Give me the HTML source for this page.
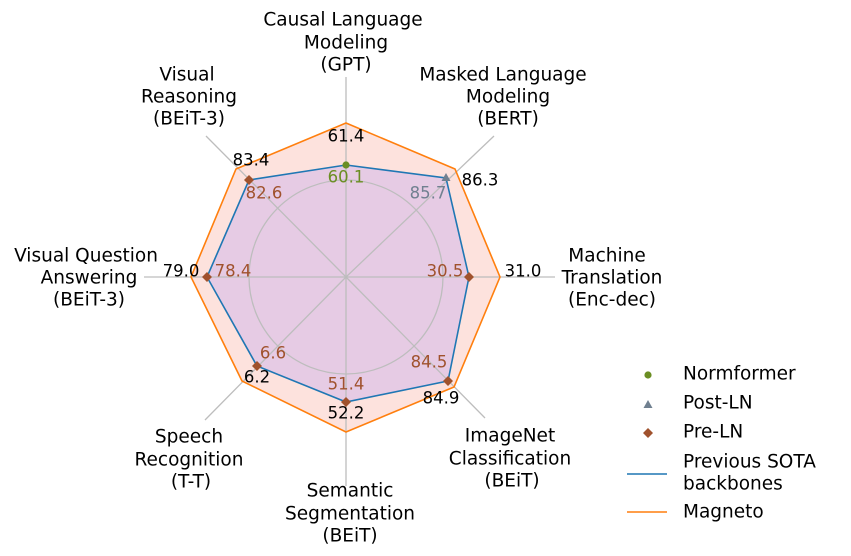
<!DOCTYPE html>
<html><head><meta charset="utf-8"><style>
html,body{margin:0;padding:0;background:#fff;}
svg{display:block;font-family:"DejaVu Sans","Liberation Sans",sans-serif;}
</style></head><body>
<svg width="851" height="556" viewBox="0 0 851 556">
<rect width="851" height="556" fill="#fff"/>
<polygon points="346,123 455,169 500,277 454,387 346,432 242,381 191,277 236,169" fill="#fde2dd"/>
<polygon points="346,165 446,178 469,277 448,381 346,402 257,366 207,277 249,180" fill="#e6cbe4"/>
<g stroke="#bdbdbd" stroke-width="1.3" fill="none">
<circle cx="346" cy="277" r="97"/>
<line x1="346" y1="277" x2="346" y2="77"/>
<line x1="346" y1="277" x2="494" y2="136"/>
<line x1="346" y1="277" x2="555" y2="277"/>
<line x1="346" y1="277" x2="485" y2="418"/>
<line x1="346" y1="277" x2="346" y2="486"/>
<line x1="346" y1="277" x2="205" y2="420"/>
<line x1="346" y1="277" x2="144" y2="277"/>
<line x1="346" y1="277" x2="206" y2="136"/>
</g>
<polygon points="346,123 455,169 500,277 454,387 346,432 242,381 191,277 236,169" fill="none" stroke="#ff7f0e" stroke-width="1.6"/>
<polygon points="346,165 446,178 469,277 448,381 346,402 257,366 207,277 249,180" fill="none" stroke="#1f77b4" stroke-width="1.6"/>
<g fill="#a0522d">
<polygon points="249,175 254,180 249,185 244,180"/>
<polygon points="469,272 474,277 469,282 464,277"/>
<polygon points="448,376 453,381 448,386 443,381"/>
<polygon points="346,397 351,402 346,407 341,402"/>
<polygon points="257,361 262,366 257,371 252,366"/>
<polygon points="207,272 212,277 207,282 202,277"/>
</g>
<circle cx="346" cy="165" r="3.6" fill="#6b8e23"/>
<polygon points="446,173 450.5,181 441.5,181" fill="#708090"/>
<g font-size="16.5" text-anchor="middle" dominant-baseline="central">
<text x="346" y="136">61.4</text>
<text x="346" y="177" fill="#6b8e23">60.1</text>
<text x="251" y="160">83.4</text>
<text x="264" y="193" fill="#a0522d">82.6</text>
<text x="480" y="180">86.3</text>
<text x="428" y="193" fill="#708090">85.7</text>
<text x="523" y="271">31.0</text>
<text x="445" y="271" fill="#a0522d">30.5</text>
<text x="181" y="271">79.0</text>
<text x="233" y="271" fill="#a0522d">78.4</text>
<text x="441" y="398">84.9</text>
<text x="429" y="362" fill="#a0522d">84.5</text>
<text x="346" y="413">52.2</text>
<text x="346" y="384" fill="#a0522d">51.4</text>
<text x="257" y="377">6.2</text>
<text x="273" y="353" fill="#a0522d">6.6</text>
</g>
<g font-size="18.5" text-anchor="middle" dominant-baseline="central">
<text x="343" y="20">Causal Language</text><text x="346" y="43">Modeling</text><text x="346" y="65">(GPT)</text>
<text x="503" y="75">Masked Language</text><text x="508" y="97">Modeling</text><text x="508" y="119">(BERT)</text>
<text x="607" y="256">Machine</text><text x="612" y="278">Translation</text><text x="612" y="300">(Enc-dec)</text>
<text x="510" y="436">ImageNet</text><text x="510" y="459">Classification</text><text x="512" y="481">(BEiT)</text>
<text x="350" y="491">Semantic</text><text x="350" y="514">Segmentation</text><text x="350" y="536">(BEiT)</text>
<text x="189" y="437">Speech</text><text x="189" y="460">Recognition</text><text x="191" y="482">(T-T)</text>
<text x="86" y="256">Visual Question</text><text x="89" y="278">Answering</text><text x="89" y="300">(BEiT-3)</text>
<text x="187" y="75">Visual</text><text x="189" y="97">Reasoning</text><text x="189" y="119">(BEiT-3)</text>
</g>
<circle cx="648" cy="375" r="3.6" fill="#6b8e23"/>
<polygon points="648,400 652.5,408 643.5,408" fill="#708090"/>
<polygon points="648,428 653,433 648,438 643,433" fill="#a0522d"/>
<line x1="627" y1="474" x2="667" y2="474" stroke="#1f77b4" stroke-width="1.6"/>
<line x1="627" y1="512" x2="667" y2="512" stroke="#ff7f0e" stroke-width="1.6"/>
<g font-size="18.5" dominant-baseline="central">
<text x="683" y="374">Normformer</text>
<text x="683" y="403">Post-LN</text>
<text x="683" y="432">Pre-LN</text>
<text x="683" y="462">Previous SOTA</text>
<text x="683" y="484">backbones</text>
<text x="683" y="512">Magneto</text>
</g>
</svg>
</body></html>
